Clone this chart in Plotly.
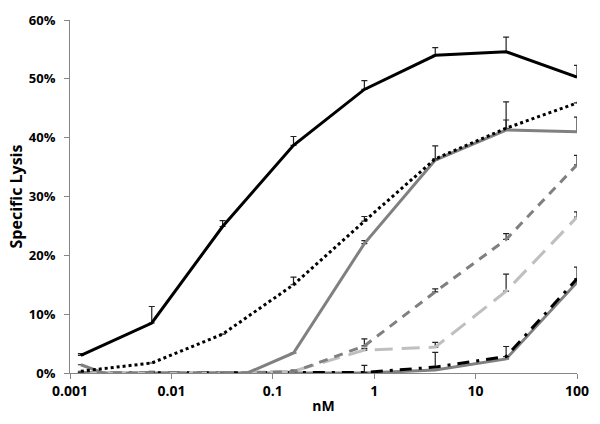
import plotly.graph_objects as go

conc = [0.00128, 0.0064, 0.032, 0.16, 0.8, 4, 20, 100]

s_black = [3.0, 8.5, 24.9, 38.7, 48.2, 54.0, 54.6, 50.3]
e_black = [0.3, 2.8, 1.0, 1.5, 1.5, 1.3, 2.5, 2.0]

s_dotted = [0.3, 1.7, 6.6, 15.0, 25.8, 36.4, 41.6, 45.9]
e_dotted = [0, 0, 0, 1.3, 0.8, 0, 1.4, 0]

s_gray = [1.4, -3.0, -1.8, 3.4, 22.0, 36.2, 41.3, 41.0]
e_gray = [0, 0, 0, 0, 0.5, 2.4, 4.8, 2.5]

s_gray_dash = [0, 0, 0, 0.2, 4.6, 13.8, 22.7, 35.4]
e_gray_dash = [0, 0, 0, 0, 1.2, 0.5, 1.0, 1.6]

s_light = [0, 0, 0, 0.3, 3.9, 4.4, 13.9, 26.5]
e_light = [0, 0, 0, 0, 0.3, 0.8, 2.9, 0.9]

s_black_dd = [0, 0, 0, 0, 0.1, 1.0, 2.8, 16.0]
e_black_dd = [0, 0.3, 0.2, 0.5, 1.2, 2.5, 1.7, 2.0]

s_gray2 = [0, 0, 0, 0, 0, 0.5, 2.4, 15.4]
e_gray2 = [0, 0, 0, 0, 0, 0, 0, 0.4]

x_ticks = [0.001, 0.01, 0.1, 1, 10, 100]
x_tick_labels = ["0.001", "0.01", "0.1", "1", "10", "100"]
y_ticks = [0, 0.1, 0.2, 0.3, 0.4, 0.5, 0.6]
y_tick_labels = ["0%", "10%", "20%", "30%", "40%", "50%", "60%"]

series = [
    (s_gray2, e_gray2, "#808080", "solid", 3),
    (s_black_dd, e_black_dd, "#000000", "12px,7px,3px,7px", 3),
    (s_light, e_light, "#bfbfbf", "18px,9px", 3),
    (s_gray_dash, e_gray_dash, "#808080", "9px,7px", 3),
    (s_gray, e_gray, "#808080", "solid", 3),
    (s_dotted, e_dotted, "#000000", "3px,3px", 3),
    (s_black, e_black, "#000000", "solid", 3),
]

fig = go.Figure()
for vals, errs, color, dash, w in series:
    fig.add_trace(go.Scatter(
        x=conc, y=[v / 100 for v in vals], mode="lines",
        line=dict(color=color, width=w, dash=dash),
        error_y=dict(type="data", symmetric=False,
                     array=[e / 100 for e in errs], arrayminus=[0] * len(errs),
                     color="#222222", thickness=1.2, width=3),
        showlegend=False,
    ))

font_family = "Open Sans, Liberation Sans, sans-serif"
fig.update_layout(
    width=600, height=424,
    margin=dict(l=70, r=17, t=11, b=51),
    plot_bgcolor="white", paper_bgcolor="white",
    font=dict(family=font_family, size=13, color="#000000"),
)
fig.update_xaxes(
    type="log", range=[-3, 2],
    tickvals=x_ticks,
    ticktext=["<b>%s</b>" % t for t in x_tick_labels],
    showgrid=False, zeroline=False,
    showline=True, linecolor="#868686", linewidth=1,
    ticks="outside", ticklen=5, tickcolor="#868686",
    tickfont=dict(size=14),
    title=dict(text="<b>nM</b>", font=dict(size=14), standoff=2),
)
fig.update_yaxes(
    range=[0, 0.6],
    tickvals=y_ticks,
    ticktext=["<b>%s</b>" % t for t in y_tick_labels],
    showgrid=False, zeroline=False,
    showline=True, linecolor="#868686", linewidth=1,
    ticks="outside", ticklen=5, tickcolor="#868686",
    tickfont=dict(size=13), ticklabelstandoff=6,
    title=dict(text="<b>Specific Lysis</b>", font=dict(size=16), standoff=2),
)

fig.write_html("out.html", config={"displayModeBar": False},
               post_script="document.body.style.margin='0';")
